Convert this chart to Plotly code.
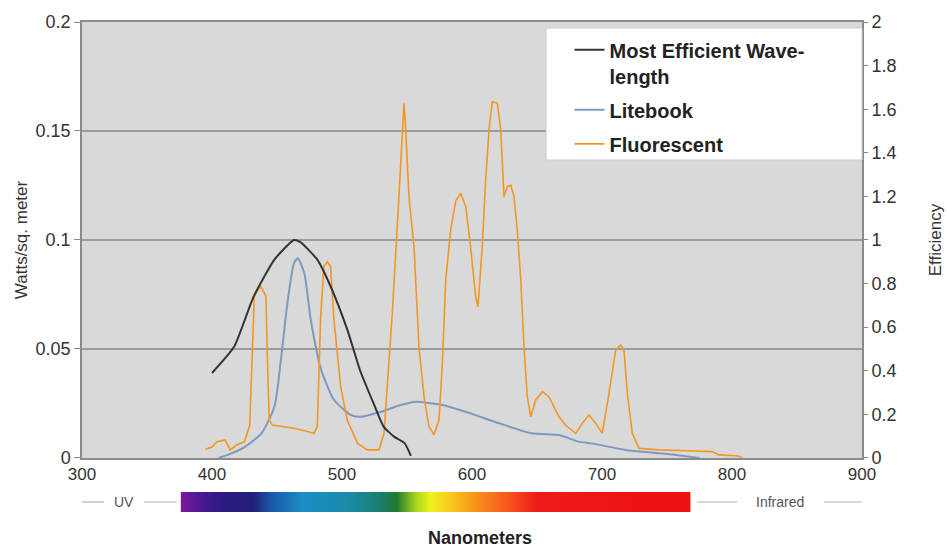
import plotly.graph_objects as go

# ---------------- data ----------------
# Most Efficient Wavelength (efficiency, right axis)
eff_nm = [400, 417, 432, 448, 463, 468, 481, 491, 504, 514, 525, 532, 540, 548, 553]
eff_val = [0.39, 0.51, 0.74, 0.91, 1.0, 0.99, 0.91, 0.79, 0.59, 0.40, 0.24, 0.144, 0.098, 0.069, 0.01]

# Litebook (W/sq. meter, left axis)
lite_nm = [405, 412, 425, 438, 448, 453, 458, 463, 466, 471, 476, 484, 494, 507, 514,
           530, 545, 557, 577, 595, 621, 646, 667, 682, 692, 718, 744, 757, 775]
lite_w = [0.0, 0.0014, 0.005, 0.0113, 0.0235, 0.045, 0.071, 0.0893, 0.0916, 0.0847, 0.0633,
          0.0404, 0.0266, 0.0197, 0.0189, 0.0212, 0.0243, 0.0258, 0.0243, 0.0212, 0.0159,
          0.0113, 0.0105, 0.0075, 0.0067, 0.0037, 0.0022, 0.0014, 0.0]

# Fluorescent (W/sq. meter, left axis)
fl_nm = [395, 400, 404, 410, 414, 419, 425, 429, 431, 432.5, 435, 437.5, 440, 441.5, 442.5,
         444, 446.5, 455, 463, 471, 478.5, 481, 483.5, 486, 488.7, 491.2, 493.8, 499, 504,
         512, 519.5, 528.5, 532.3, 534.8, 538.7, 543.8, 546.4, 547.7, 549, 551.5, 555.4,
         559.2, 563.1, 566.9, 570.8, 574.6, 577.2, 579.8, 583.6, 587.5, 591.3, 595.2, 598.9,
         602.8, 604.6, 607.9, 610.5, 613.1, 615.6, 619.5, 622.1, 624.6, 627.2, 629.8, 632.3,
         634.8, 637.5, 640, 642.5, 645.2, 649, 654.1, 659.2, 666.9, 672, 679.8, 685, 690, 695,
         700.2, 705.4, 710.5, 714.3, 716.9, 719.5, 723.3, 728.5, 743.8, 765, 784.8, 790, 805, 808]
fl_w = [0.004, 0.005, 0.0075, 0.0083, 0.0037, 0.006, 0.0075, 0.015, 0.048, 0.074, 0.077,
        0.0786, 0.076, 0.074, 0.048, 0.0174, 0.0151, 0.0145, 0.0136, 0.0125, 0.0113, 0.0144,
        0.0633, 0.0878, 0.09, 0.0878, 0.0633, 0.0327, 0.0174, 0.0067, 0.0037, 0.0037, 0.0113,
        0.0327, 0.0664, 0.1199, 0.1505, 0.1627, 0.1505, 0.1199, 0.0969, 0.0511, 0.0281, 0.0144,
        0.0106, 0.0174, 0.0434, 0.0817, 0.1046, 0.118, 0.1214, 0.1153, 0.0969, 0.074, 0.0694,
        0.0969, 0.1275, 0.1505, 0.1634, 0.1627, 0.1505, 0.1199, 0.1245, 0.1252, 0.1199, 0.1046,
        0.0817, 0.0511, 0.0281, 0.0189, 0.0266, 0.0304, 0.0281, 0.0189, 0.0150, 0.0113, 0.016,
        0.0197, 0.016, 0.0113, 0.0297, 0.0495, 0.0518, 0.0495, 0.0297, 0.0113, 0.0044, 0.0037,
        0.0033, 0.0029, 0.0014, 0.0009, 0.0]

# visible-spectrum strip (nm -> colour)
spectrum_nm = [376, 392, 410, 432, 445, 470, 505, 530, 542, 557, 568, 584, 604, 630, 650, 768]
spectrum_colors = ["#7e1a9c", "#4a1890", "#2a1a7e", "#22207a", "#1a56a8", "#1a8ec4",
                   "#1a8aa8", "#1a7e6a", "#1f7a2e", "#a8d41e", "#eef21e", "#f8c81c",
                   "#f8901c", "#f85020", "#ee1a1a", "#ee1010"]

x_range = [300, 900]
watts_range = [0, 0.2]
eff_range = [0, 2]

FONT = "Liberation Sans, Arial, sans-serif"

fig = go.Figure()

fig.add_trace(go.Scatter(
    x=eff_nm, y=eff_val, yaxis="y2", mode="lines", name="Most Efficient Wave-<br>length",
    line=dict(color="#333333", width=2, shape="spline", smoothing=0.5), legendgroup="a"))
fig.add_trace(go.Scatter(
    x=lite_nm, y=lite_w, mode="lines", name="Litebook",
    line=dict(color="#7d99bf", width=2, shape="spline", smoothing=0.6), legendgroup="b"))
fig.add_trace(go.Scatter(
    x=fl_nm, y=fl_w, mode="lines", name="Fluorescent",
    line=dict(color="#f5961f", width=1.6), legendgroup="c"))

# spectrum strip drawn with a gradient fill
lo, hi = spectrum_nm[0], spectrum_nm[-1]
cscale = [[(v - lo) / (hi - lo), c] for v, c in zip(spectrum_nm, spectrum_colors)]
fig.add_trace(go.Scatter(
    x=[lo, hi, hi, lo, lo], y=[0, 0, 1, 1, 0], yaxis="y3", mode="lines",
    line=dict(width=0), fill="toself",
    fillgradient=dict(type="horizontal", colorscale=cscale),
    showlegend=False, hoverinfo="skip"))

grid = "#9c9c9c"
border = "#8a8a8a"
fig.update_layout(
    width=947, height=549,
    margin=dict(l=82, r=85, t=22, b=5),
    paper_bgcolor="white", plot_bgcolor="white",
    font=dict(family=FONT, size=17, color="#333333"),
    showlegend=True,
    xaxis=dict(range=x_range, dtick=100, tick0=300, showgrid=False, zeroline=False,
               showline=True, mirror=True, linecolor=border, linewidth=1.5,
               ticks="", tickfont=dict(size=17, color="#333333"), anchor="y",
               domain=[0, 1], automargin=False),
    yaxis=dict(range=watts_range, dtick=0.05, domain=[0.1648, 1], showgrid=True,
               gridcolor=grid, gridwidth=1.5, zeroline=False, showline=True, mirror=True,
               linecolor=border, linewidth=1.5, ticks="outside", ticklen=6,
               tickcolor=border, tickfont=dict(size=18, color="#333333"), automargin=False,
               title=dict(text="Watts/sq. meter", font=dict(size=17, color="#333333"),
                          standoff=4)),
    yaxis2=dict(range=eff_range, dtick=0.2, overlaying="y", side="right", anchor="x",
                showgrid=False, zeroline=False, ticks="outside", ticklen=5,
                tickcolor=border, tickfont=dict(size=18, color="#333333"), automargin=False,
                title=dict(text="Efficiency", font=dict(size=17, color="#333333"),
                           standoff=33)),
    yaxis3=dict(domain=[0.0613, 0.0996], range=[0, 1], visible=False, anchor="x",
                fixedrange=True, automargin=False),
    legend=dict(x=0.625, xanchor="left", y=0.984, yanchor="top",
                bgcolor="rgba(0,0,0,0)", borderwidth=0,
                font=dict(family=FONT, size=20, color="#222222", weight="bold"),
                tracegroupgap=5, traceorder="grouped", valign="top"),
)

# grey plotting area (below gridlines) for the main panel only
fig.add_shape(type="rect", xref="x domain", yref="y domain", x0=0, x1=1, y0=0, y1=1,
              fillcolor="#d9d9d9", line=dict(width=0), layer="below")

# white legend box
fig.add_shape(type="rect", xref="paper", yref="paper", x0=0.595, x1=1.0,
              y0=0.7356, y1=0.9885, fillcolor="white", line=dict(color="#cfcfcf", width=1),
              layer="above")

# UV / Infrared markers along the strip
line_col = "#b0b0b0"
for a, b in [(300, 317), (348, 373), (773, 804), (871, 900)]:
    fig.add_shape(type="line", xref="x", yref="y3", x0=a, x1=b, y0=0.5, y1=0.5,
                  line=dict(color=line_col, width=1.2))
fig.add_annotation(x=332, y=0.5, xref="x", yref="y3", text="UV", showarrow=False,
                   font=dict(size=14, color="#555555"))
fig.add_annotation(x=837, y=0.5, xref="x", yref="y3", text="Infrared", showarrow=False,
                   font=dict(size=14, color="#555555"))
fig.add_annotation(x=0.51, y=0.0115, xref="paper", yref="paper", yanchor="middle",
                   text="<b>Nanometers</b>", showarrow=False,
                   font=dict(size=18, color="#222222"))

fig.write_html("out.html", config={"displayModeBar": False},
               post_script="document.body.style.margin='0px';")
